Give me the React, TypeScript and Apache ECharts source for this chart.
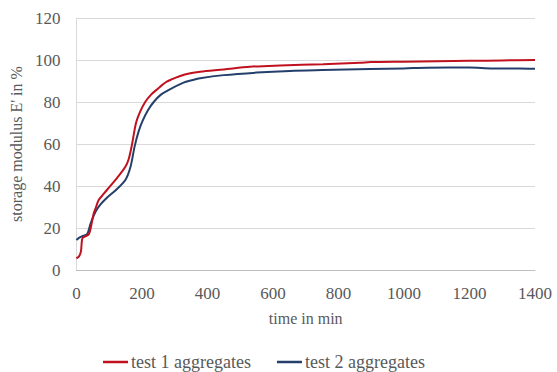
import React, { useEffect, useRef } from "react";
import * as echarts from "echarts";

const xTicks = [0, 200, 400, 600, 800, 1000, 1200, 1400];
const yTicks = [0, 20, 40, 60, 80, 100, 120];

const test1Time = [0, 8, 14, 18, 27, 38, 45, 53, 60, 68, 83, 98, 125, 149, 160, 170, 182, 195, 210, 228, 246, 276, 317, 348, 378, 450, 530, 622, 753, 866, 900, 1000, 1100, 1200, 1300, 1400];
const test1Value = [5.6, 6.5, 9, 15, 16, 17, 21, 27, 30, 33.3, 36.2, 39, 44, 49, 53, 60, 70, 75.5, 80, 83.5, 86, 89.7, 92.4, 93.7, 94.4, 95.5, 96.8, 97.4, 98, 98.7, 99, 99.2, 99.4, 99.6, 99.8, 100];

const test2Time = [0, 10, 17, 33, 43, 58, 73, 94, 120, 150, 165, 178, 190, 202, 218, 236, 258, 281, 327, 348, 378, 450, 550, 652, 750, 896, 1000, 1070, 1200, 1271, 1350, 1400];
const test2Value = [14.3, 15.5, 16, 17.1, 22, 27.6, 31.1, 34.5, 38, 43, 49, 59, 66, 71, 76, 80, 83.5, 85.7, 89.2, 90.2, 91.3, 92.8, 94, 94.8, 95.2, 95.7, 96, 96.3, 96.4, 96, 96, 95.8];

const seriesNames = ["test 1 aggregates", "test 2 aggregates"];
const seriesColors = ["#c0121e", "#243f6b"];

const FONT = "Times New Roman";
const TEXT = "#595959";

export default function App() {
  const ref = useRef<HTMLDivElement>(null);
  useEffect(() => {
    if (!ref.current) return;
    const chart = echarts.init(ref.current, undefined, { renderer: "svg" });
    const d1 = test1Time.map((t, i) => [t, test1Value[i]]);
    const d2 = test2Time.map((t, i) => [t, test2Value[i]]);
    chart.setOption({
      animation: false,
      backgroundColor: "#ffffff",
      textStyle: { fontFamily: FONT },
      grid: { left: 76, right: 22, top: 18, bottom: 102, containLabel: false },
      legend: {
        data: seriesNames,
        left: 103,
        top: 353,
        padding: 0,
        icon: "rect",
        itemWidth: 25,
        itemHeight: 2.5,
        itemGap: 26,
        textStyle: { fontFamily: FONT, fontSize: 18, color: TEXT, padding: [0, 0, 0, -2] },
      },
      xAxis: {
        type: "value",
        min: xTicks[0],
        max: xTicks[xTicks.length - 1],
        interval: 200,
        name: "time in min",
        nameLocation: "middle",
        nameGap: 40,
        nameTextStyle: { fontFamily: FONT, fontSize: 16, color: TEXT },
        axisLine: { show: true, lineStyle: { color: "#bfbfbf", width: 1 } },
        axisTick: { show: false },
        splitLine: { show: false },
        axisLabel: { fontFamily: FONT, fontSize: 17, color: TEXT, margin: 15, formatter: (v: number) => String(v) },
      },
      yAxis: {
        type: "value",
        min: yTicks[0],
        max: yTicks[yTicks.length - 1],
        interval: 20,
        name: "storage modulus E' in %",
        nameLocation: "middle",
        nameGap: 50,
        nameTextStyle: { fontFamily: FONT, fontSize: 16, color: TEXT },
        axisLine: { show: true, lineStyle: { color: "#d9d9d9", width: 1 } },
        axisTick: { show: false },
        splitLine: { show: true, lineStyle: { color: "#d9d9d9", width: 1 } },
        axisLabel: { fontFamily: FONT, fontSize: 17, color: TEXT, margin: 16, formatter: (v: number) => String(v) },
      },
      series: [
        {
          name: seriesNames[0],
          type: "line",
          data: d1,
          smooth: 0.3,
          showSymbol: false,
          symbol: "none",
          lineStyle: { color: seriesColors[0], width: 2 },
          itemStyle: { color: seriesColors[0] },
          z: 3,
        },
        {
          name: seriesNames[1],
          type: "line",
          data: d2,
          smooth: 0.3,
          showSymbol: false,
          symbol: "none",
          lineStyle: { color: seriesColors[1], width: 2 },
          itemStyle: { color: seriesColors[1] },
          z: 2,
        },
      ],
    });
    return () => chart.dispose();
  }, []);
  return <div ref={ref} style={{ width: 557, height: 372, position: "absolute", left: 0, top: 0 }} />;
}
